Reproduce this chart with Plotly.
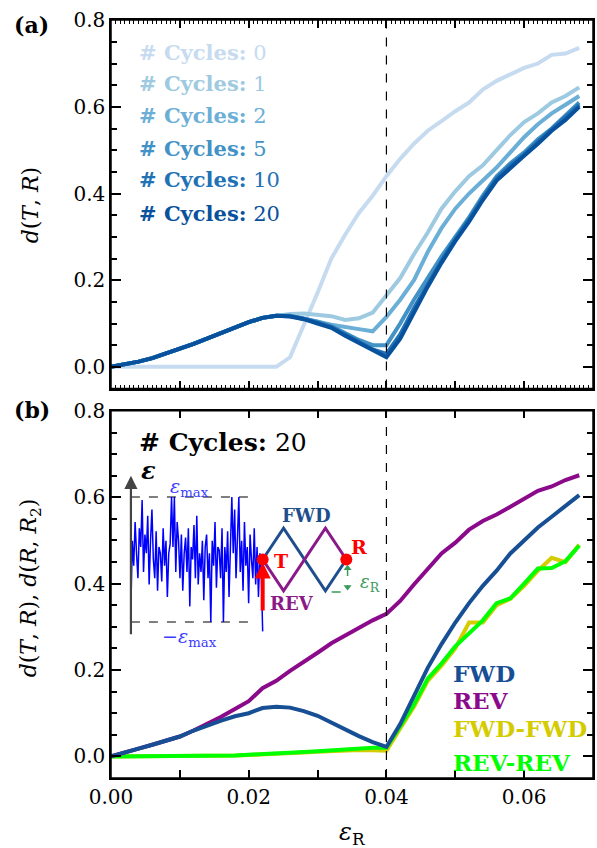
import plotly.graph_objects as go

# ---------------- data ----------------
x_grid = [round(0.002 * i, 3) for i in range(35)]  # 0.000 ... 0.068

cycles_labels = ["0", "1", "2", "5", "10", "20"]
cycles_colors = ["#c6dbef", "#9ecae1", "#6baed6", "#4292c6", "#2171b5", "#08519c"]

rise = [0.0, 0.005, 0.012, 0.02, 0.03, 0.042, 0.053, 0.066, 0.079, 0.092, 0.103, 0.113, 0.118]

cyc0 = [0.0] * 13 + [0.022, 0.095, 0.171, 0.25, 0.305, 0.355, 0.395, 0.44, 0.48, 0.515, 0.545,
                     0.567, 0.59, 0.61, 0.64, 0.66, 0.675, 0.69, 0.70, 0.72, 0.723, 0.736]
cyc1 = rise + [0.122, 0.123, 0.121, 0.117, 0.108, 0.112, 0.125, 0.165, 0.205, 0.26, 0.31, 0.365,
               0.405, 0.44, 0.465, 0.50, 0.535, 0.565, 0.585, 0.61, 0.625, 0.645]
cyc2 = rise + [0.118, 0.112, 0.104, 0.097, 0.091, 0.087, 0.082, 0.115, 0.155, 0.20, 0.265, 0.32,
               0.365, 0.40, 0.43, 0.46, 0.495, 0.53, 0.56, 0.585, 0.605, 0.625]
cyc5 = rise + [0.118, 0.112, 0.104, 0.094, 0.078, 0.062, 0.05, 0.05, 0.10, 0.155, 0.205, 0.255,
               0.30, 0.345, 0.395, 0.44, 0.47, 0.495, 0.525, 0.55, 0.58, 0.61]
cyc10 = rise + [0.117, 0.111, 0.102, 0.092, 0.075, 0.058, 0.04, 0.03, 0.075, 0.135, 0.19, 0.245,
                0.295, 0.34, 0.39, 0.435, 0.465, 0.49, 0.52, 0.548, 0.575, 0.605]
cyc20 = rise + [0.116, 0.11, 0.10, 0.09, 0.072, 0.055, 0.038, 0.022, 0.065, 0.125, 0.185, 0.24,
                0.29, 0.335, 0.385, 0.43, 0.46, 0.487, 0.515, 0.545, 0.57, 0.60]
cycles_series = [cyc0, cyc1, cyc2, cyc5, cyc10, cyc20]

fwd = [0.0, 0.008, 0.018, 0.027, 0.036, 0.046, 0.06, 0.072, 0.083, 0.093, 0.10, 0.112, 0.115,
       0.113, 0.105, 0.094, 0.078, 0.062, 0.047, 0.033, 0.022, 0.075, 0.14, 0.205, 0.26, 0.31,
       0.355, 0.395, 0.43, 0.47, 0.50, 0.53, 0.555, 0.58, 0.605]
rev = [0.0, 0.008, 0.018, 0.027, 0.036, 0.046, 0.06, 0.075, 0.092, 0.11, 0.128, 0.158, 0.175,
       0.198, 0.218, 0.24, 0.262, 0.28, 0.298, 0.315, 0.33, 0.36, 0.398, 0.435, 0.47, 0.495,
       0.525, 0.545, 0.56, 0.578, 0.596, 0.615, 0.625, 0.64, 0.651]
fwd_fwd = [0.0, 0.0, 0.0, 0.0, 0.001, 0.001, 0.001, 0.001, 0.002, 0.002, 0.003, 0.004, 0.006,
           0.008, 0.009, 0.011, 0.013, 0.015, 0.015, 0.014, 0.013, 0.065, 0.115, 0.175, 0.21,
           0.25, 0.31, 0.31, 0.35, 0.365, 0.395, 0.43, 0.46, 0.45, 0.49]
rev_rev = [0.0, 0.0, 0.0, 0.0, 0.001, 0.001, 0.001, 0.001, 0.002, 0.002, 0.004, 0.005, 0.007,
           0.009, 0.01, 0.012, 0.014, 0.017, 0.019, 0.02, 0.02, 0.07, 0.12, 0.18, 0.215, 0.255,
           0.285, 0.315, 0.355, 0.366, 0.40, 0.435, 0.436, 0.452, 0.488]
bottom_names = ["FWD", "REV", "FWD-FWD", "REV-REV"]
bottom_colors = ["#174f95", "#8b0a8b", "#d4cc00", "#00ff00"]
bottom_series = [fwd, rev, fwd_fwd, rev_rev]
bottom_order = [2, 3, 1, 0]

eps_ref = 0.04

# inset schematic (time units, strain in units of eps_max)
noise = [-0.75, 0.3, -0.1, 0.6, 0.1, -0.3, 0.5, 0.2, 0.95, -0.2, 0.4, 0.1, 0.7, -0.4, 0.3, 0.8,
         0.0, -0.3, 0.45, -0.5, 0.2, 0.1, -0.35, 0.5, -0.1, 0.3, -0.6, 0.1, 0.25, 1.0, 0.2, 1.0,
         -0.2, 0.6, 0.3, -0.3, 0.4, -0.5, 0.1, 0.35, -0.2, 0.5, -0.75, 0.2, 0.0, 0.55, -0.3, 0.7,
         -0.4, 0.1, -0.2, 0.3, -0.65, 0.2, 0.4, -0.3, 0.1, -1.0, 0.3, -0.1, 0.6, -0.45, 0.2, 0.15,
         -0.3, 0.5, -1.0, 0.2, -0.2, 0.45, -0.6, 0.3, 1.0, 0.1, 0.8, -0.3, 0.4, 1.0, -0.2, 0.3,
         -0.5, 0.6, -0.1, 0.2, -0.7, 0.4, 0.0, -0.3, 0.5, -0.4, 0.2, -0.6, 0.1, -0.2, -1.15]
t_T = 3.15
zig_t = [0.0, 0.5, 1.5, 2.0]
zig_fwd = [0.0, 0.5, -0.5, 0.0]
zig_rev = [0.0, -0.5, 0.5, 0.0]
eps_R_inset = 0.5

FONT = "DejaVu Serif"

fig = go.Figure()

for lab, col, ys in zip(cycles_labels, cycles_colors, cycles_series):
    fig.add_trace(go.Scatter(x=x_grid, y=ys, mode="lines", line=dict(color=col, width=4),
                             xaxis="x", yaxis="y", showlegend=False, hoverinfo="skip"))
for i in bottom_order:
    fig.add_trace(go.Scatter(x=x_grid, y=bottom_series[i], mode="lines",
                             line=dict(color=bottom_colors[i], width=4),
                             xaxis="x2", yaxis="y2", showlegend=False, hoverinfo="skip"))

n = len(noise)
t_noise = [t_T * k / (n - 1) for k in range(n)]
for lvl in (1, -1):
    fig.add_trace(go.Scatter(x=[0, 2.9], y=[lvl, lvl], mode="lines",
                             line=dict(color="black", width=1.2, dash="dash"),
                             xaxis="x3", yaxis="y3", showlegend=False, hoverinfo="skip"))
fig.add_trace(go.Scatter(x=t_noise, y=noise, mode="lines", line=dict(color="#0000ff", width=1.5),
                         xaxis="x3", yaxis="y3", showlegend=False, hoverinfo="skip"))
fig.add_trace(go.Scatter(x=[t_T + t for t in zig_t], y=zig_fwd, mode="lines",
                         line=dict(color="#1f4e8c", width=3),
                         xaxis="x3", yaxis="y3", showlegend=False, hoverinfo="skip"))
fig.add_trace(go.Scatter(x=[t_T + t for t in zig_t], y=zig_rev, mode="lines",
                         line=dict(color="#8b1a89", width=3),
                         xaxis="x3", yaxis="y3", showlegend=False, hoverinfo="skip"))
t_R = t_T + zig_t[-1]
fig.add_trace(go.Scatter(x=[t_R - 0.35, t_R + 0.05], y=[-eps_R_inset - 0.02] * 2, mode="lines",
                         line=dict(color="#3a9a5a", width=1.5, dash="dash"),
                         xaxis="x3", yaxis="y3", showlegend=False, hoverinfo="skip"))
fig.add_trace(go.Scatter(x=[t_R + 0.03] * 2, y=[-0.12, -eps_R_inset + 0.08], mode="lines",
                         line=dict(color="#3a9a5a", width=1.5, dash="dash"),
                         xaxis="x3", yaxis="y3", showlegend=False, hoverinfo="skip"))
fig.add_trace(go.Scatter(x=[t_R + 0.03, t_R + 0.03], y=[-0.14, -eps_R_inset + 0.06], mode="markers",
                         marker=dict(symbol=["triangle-up", "triangle-down"], size=7, color="#3a9a5a"),
                         xaxis="x3", yaxis="y3", showlegend=False, hoverinfo="skip"))
fig.add_trace(go.Scatter(x=[t_T, t_R], y=[0, 0], mode="markers",
                         marker=dict(color="#ff0000", size=12),
                         xaxis="x3", yaxis="y3", showlegend=False, hoverinfo="skip"))

L, R, T, B = 111, 2, 20, 70
H, W = 848, 597
ph = H - T - B
pw = W - L - R


def py2paper(py):
    return (H - B - py) / ph


def px2paper(px):
    return (px - L) / pw


tick_font = dict(family=FONT, size=20, color="black")
axis_common = dict(showgrid=False, zeroline=False, showline=True, linecolor="black", linewidth=1.5,
                   ticks="inside", tickcolor="black", tickwidth=2, tickfont=tick_font)
minor_y = dict(dtick=0.05, tick0=0, ticklen=6, ticks="inside", tickcolor="black", tickwidth=1.6)

top_dom = [py2paper(388.5), 1.0]
bot_dom = [0.0, py2paper(410.7)]

fig.update_layout(
    width=W, height=H,
    margin=dict(l=L, r=R, t=T, b=B),
    paper_bgcolor="white", plot_bgcolor="rgba(0,0,0,0)",
    font=dict(family=FONT, color="black"),
    xaxis=dict(**axis_common, domain=[0, 1], anchor="y", range=[0, 0.07], dtick=0.01, tick0=0,
               ticklen=8, showticklabels=False, mirror="ticks",
               minor=dict(dtick=0.01 / 15, ticklen=4, ticks="inside", tickcolor="black", tickwidth=1.2)),
    yaxis=dict(**axis_common, domain=top_dom, anchor="x", range=[-0.05, 0.8005], dtick=0.2, tick0=0,
               ticklen=10, tickformat=".1f", mirror="ticks", minor=minor_y),
    xaxis2=dict(**axis_common, domain=[0, 1], anchor="y2", range=[0, 0.07],
                tickvals=[0, 0.01, 0.02, 0.03, 0.04, 0.05, 0.06],
                ticktext=["0.00", " ", "0.02", " ", "0.04", " ", "0.06"],
                ticklen=8, mirror="ticks"),
    yaxis2=dict(**axis_common, domain=bot_dom, anchor="x2", range=[-0.05, 0.8005], dtick=0.2, tick0=0,
                ticklen=10, tickformat=".1f", mirror="ticks", minor=minor_y),
    xaxis3=dict(domain=[0, 1], anchor="y3", range=[(111 - 131) / 42, (595 - 131) / 42],
                visible=False, showgrid=False, zeroline=False, showline=False),
    yaxis3=dict(domain=bot_dom, anchor="x3", range=[(559.5 - 778) / 62.5, (559.5 - 410.7) / 62.5],
                visible=False, showgrid=False, zeroline=False, showline=False),
)

for xr, yr in [("x", "y"), ("x2", "y2")]:
    fig.add_shape(type="line", xref=xr, yref=yr + " domain", x0=eps_ref, x1=eps_ref, y0=0, y1=1,
                  line=dict(color="black", width=1.2, dash="dash"))
    fig.add_shape(type="rect", xref=xr + " domain", yref=yr + " domain", x0=0, x1=1, y0=0, y1=1,
                  line=dict(color="black", width=1.5), fillcolor="rgba(0,0,0,0)")

ann = []
for k, (lab, col) in enumerate(zip(cycles_labels, cycles_colors)):
    ypx = [52, 83, 115, 148, 180, 213][k]
    ann.append(dict(x=px2paper(137), y=py2paper(ypx), xref="paper", yref="paper",
                    text=f"<b># Cycles:</b> {lab}", showarrow=False, xanchor="left", yanchor="middle",
                    font=dict(family=FONT, size=21, color=col)))
for k in range(4):
    ypx = [673, 700, 728, 762][k]
    ann.append(dict(x=px2paper(452), y=py2paper(ypx), xref="paper", yref="paper",
                    text=f"<b>{bottom_names[k]}</b>", showarrow=False, xanchor="left", yanchor="middle",
                    font=dict(family=FONT, size=23, color=bottom_colors[k])))
ann.append(dict(x=px2paper(12), y=py2paper(25), xref="paper", yref="paper", text="<b>(a)</b>",
                showarrow=False, xanchor="left", yanchor="middle", font=dict(family=FONT, size=22)))
ann.append(dict(x=px2paper(12), y=py2paper(410), xref="paper", yref="paper", text="<b>(b)</b>",
                showarrow=False, xanchor="left", yanchor="middle", font=dict(family=FONT, size=22)))
ann.append(dict(x=px2paper(30), y=py2paper(205), xref="paper", yref="paper",
                text="<i>d</i>(<i>T</i>, <i>R</i>)", textangle=-90, showarrow=False,
                xanchor="center", yanchor="middle", font=dict(family=FONT, size=22)))
ann.append(dict(x=px2paper(30), y=py2paper(588), xref="paper", yref="paper",
                text="<i>d</i>(<i>T</i>, <i>R</i>), <i>d</i>(<i>R</i>, <i>R</i><sub>2</sub>)",
                textangle=-90, showarrow=False, xanchor="center", yanchor="middle",
                font=dict(family=FONT, size=22)))
ann.append(dict(x=px2paper(354), y=py2paper(833), xref="paper", yref="paper",
                text="<i>ε</i><sub>R</sub>", showarrow=False, xanchor="center", yanchor="middle",
                font=dict(family=FONT, size=24)))
ann.append(dict(x=0.14, y=1.88, xref="x3", yref="y3", text="<b># Cycles:</b> 20", showarrow=False,
                xanchor="left", yanchor="middle", font=dict(family=FONT, size=25, color="black")))
ann.append(dict(x=0.2, y=1.42, xref="x3", yref="y3", text="<b><i>ε</i></b>", showarrow=False,
                xanchor="left", yanchor="middle", font=dict(family=FONT, size=24, color="black")))
ann.append(dict(x=1.4, y=1.16, xref="x3", yref="y3", text="<i>ε</i><sub>max</sub>", showarrow=False,
                xanchor="center", yanchor="middle", font=dict(family=FONT, size=19, color="#3c3cff")))
ann.append(dict(x=1.4, y=-1.24, xref="x3", yref="y3", text="−<i>ε</i><sub>max</sub>", showarrow=False,
                xanchor="center", yanchor="middle", font=dict(family=FONT, size=19, color="#3c3cff")))
ann.append(dict(x=4.19, y=0.71, xref="x3", yref="y3", text="<b>FWD</b>", showarrow=False,
                xanchor="center", yanchor="middle", font=dict(family=FONT, size=18, color="#1f4e8c")))
ann.append(dict(x=3.85, y=-0.7, xref="x3", yref="y3", text="<b>REV</b>", showarrow=False,
                xanchor="center", yanchor="middle", font=dict(family=FONT, size=18, color="#8b1a89")))
ann.append(dict(x=3.6, y=-0.02, xref="x3", yref="y3", text="<b>T</b>", showarrow=False,
                xanchor="center", yanchor="middle", font=dict(family=FONT, size=19, color="#ff0000")))
ann.append(dict(x=5.45, y=0.2, xref="x3", yref="y3", text="<b>R</b>", showarrow=False,
                xanchor="center", yanchor="middle", font=dict(family=FONT, size=19, color="#ff0000")))
ann.append(dict(x=5.72, y=-0.38, xref="x3", yref="y3", text="<i>ε</i><sub>R</sub>", showarrow=False,
                xanchor="center", yanchor="middle", font=dict(family=FONT, size=18, color="#3a9a5a")))
ann.append(dict(x=0, y=1.34, ax=0, ay=-1.22, xref="x3", yref="y3", axref="x3", ayref="y3", text="",
                showarrow=True, arrowhead=2, arrowsize=1.2, arrowwidth=2.2, arrowcolor="#444444"))
ann.append(dict(x=t_T, y=0, ax=t_T, ay=-0.84, xref="x3", yref="y3", axref="x3", ayref="y3", text="",
                showarrow=True, arrowhead=2, arrowsize=0.8, arrowwidth=4, arrowcolor="#ff0000",
                standoff=3))
fig.update_layout(annotations=ann)

fig.write_html("out.html")
